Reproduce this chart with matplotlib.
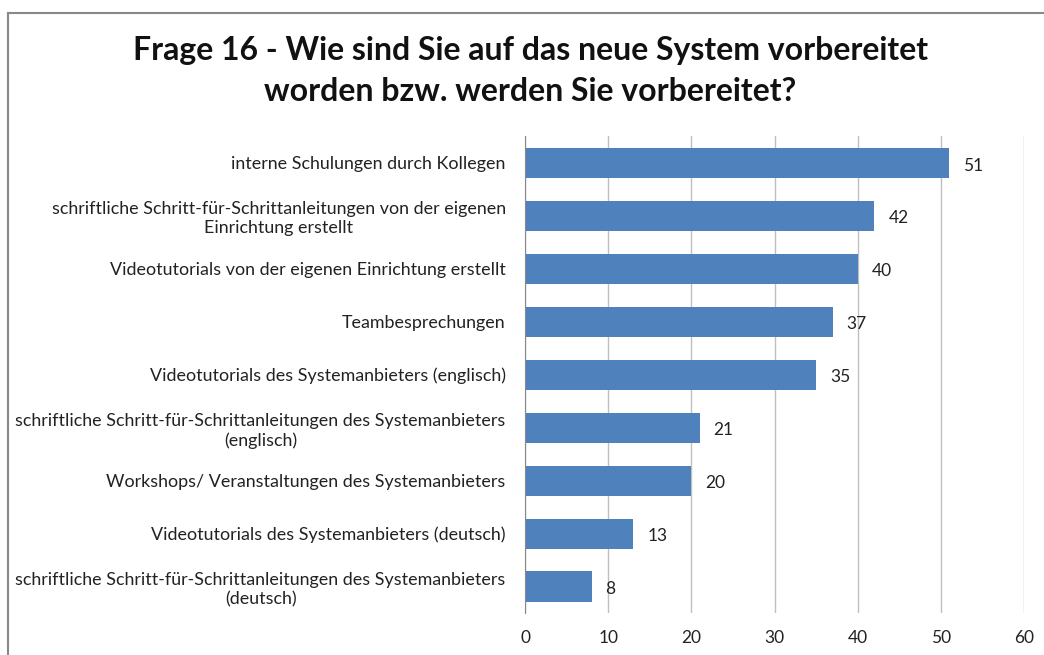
import matplotlib
matplotlib.use('Agg')
import matplotlib.pyplot as plt
from matplotlib.lines import Line2D

plt.rcParams['font.family'] = ['Lato', 'DejaVu Sans']

categories = [
    "interne Schulungen durch Kollegen",
    "schriftliche Schritt-für-Schrittanleitungen von der eigenen\nEinrichtung erstellt",
    "Videotutorials von der eigenen Einrichtung erstellt",
    "Teambesprechungen",
    "Videotutorials des Systemanbieters (englisch)",
    "schriftliche Schritt-für-Schrittanleitungen des Systemanbieters\n(englisch)",
    "Workshops/ Veranstaltungen des Systemanbieters",
    "Videotutorials des Systemanbieters (deutsch)",
    "schriftliche Schritt-für-Schrittanleitungen des Systemanbieters\n(deutsch)",
]
values = [51, 42, 40, 37, 35, 21, 20, 13, 8]
x_ticks = [0, 10, 20, 30, 40, 50, 60]

title = "Frage 16 - Wie sind Sie auf das neue System vorbereitet\nworden bzw. werden Sie vorbereitet?"

fig = plt.figure(figsize=(10.44, 6.55), dpi=100)
ax = fig.add_axes([0.503, 0.064, 0.478, 0.728])

pos = list(range(len(categories)))
ax.barh(pos, values, height=0.57, color='#4F81BD', zorder=3)
ax.set_ylim(len(categories) - 0.5, -0.5)
ax.set_xlim(0, 60)
ax.set_xticks(x_ticks)
ax.set_yticks(pos)
ax.set_yticklabels(categories, multialignment='center', fontsize=12.9,
                   linespacing=1.25, color='#222222')
ax.tick_params(axis='x', length=0, labelsize=12.5, pad=12, colors='#222222')
ax.tick_params(axis='y', length=0, pad=14)
ax.grid(axis='x', color='#BFBFBF', linewidth=1, zorder=0)

for s in ['top', 'right', 'bottom']:
    ax.spines[s].set_visible(False)
ax.spines['left'].set_color('#888888')
ax.spines['left'].set_zorder(4)

for p, v in zip(pos, values):
    ax.annotate(str(v), (v, p), xytext=(10, -2), textcoords='offset points',
                va='center', ha='left', fontsize=12.5, color='#222222')

fig.text(0.508, 0.892, title, ha='center', va='center', fontsize=23,
         fontweight='bold', linespacing=1.5, color='#111111')

# chart border (cropped at right and bottom)
fig.add_artist(Line2D([0.0078, 0.0078], [0.0, 0.980], color='#888888', lw=1.5,
                      transform=fig.transFigure))
fig.add_artist(Line2D([0.0078, 1.0], [0.980, 0.980], color='#888888', lw=1.5,
                      transform=fig.transFigure))

fig.savefig('out.png', dpi=100)
